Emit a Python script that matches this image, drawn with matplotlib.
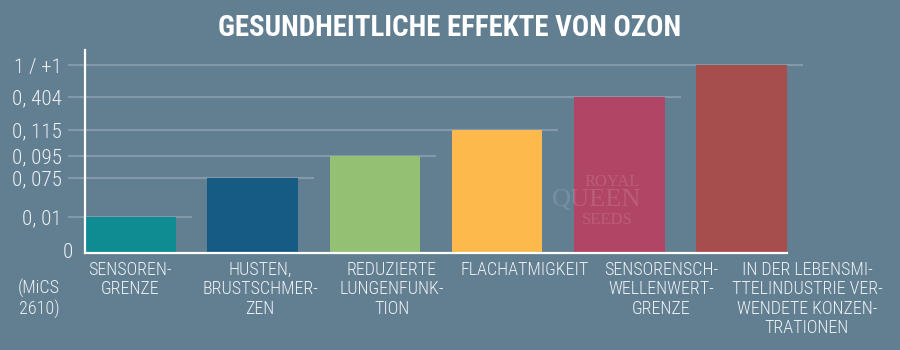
import numpy as np
import matplotlib
matplotlib.use("Agg")
import matplotlib.pyplot as plt
from matplotlib import font_manager
from matplotlib.scale import FuncScale
from matplotlib.transforms import blended_transform_factory

# ---------------- data ----------------
categories = [
    "SENSOREN-\nGRENZE",
    "HUSTEN,\nBRUSTSCHMER-\nZEN",
    "REDUZIERTE\nLUNGENFUNK-\nTION",
    "FLACHATMIGKEIT",
    "SENSORENSCH-\nWELLENWERT-\nGRENZE",
    "IN DER LEBENSMI-\nTTELINDUSTRIE VER-\nWENDETE KONZEN-\nTRATIONEN",
]
values = [0.01, 0.075, 0.095, 0.115, 0.404, 1.0]
tick_values = [0, 0.01, 0.075, 0.095, 0.115, 0.404, 1.0]
tick_labels = ["0", "0, 01", "0, 075", "0, 095", "0, 115", "0, 404", "1 / +1"]
unit_label = "(MiCS\n2610)"
title = "GESUNDHEITLICHE EFFEKTE VON OZON"

# ---------------- layout / style ----------------
# the reference axis is not linear: each tick sits at its own height (px above zero)
tick_heights_px = [0, 36, 75, 97, 123, 156, 188]
axes_height_px = 203
# category label centres in the reference (px), they drift right of the bars
label_centers_px = [130, 260, 392, 525, 661, 807]

bg = "#627e91"
grid_c = "#8199a9"
text_c = "#eef2f5"
bar_colors = ["#0f8c91", "#165b83", "#94c073", "#fdb94b", "#b14566", "#a54e4d"]

names = {f.name for f in font_manager.fontManager.ttflist}


def pick(cands):
    for c in cands:
        if c in names:
            return c
    return "DejaVu Sans"


label_font = pick(["Roboto Condensed", "Liberation Sans Narrow", "Roboto"])
title_font = pick(["Roboto Condensed", "Roboto", "Liberation Sans Narrow"])


def fwd(v):
    v = np.asarray(v, dtype=float)
    out = np.interp(v, tick_values, tick_heights_px)
    slope = (tick_heights_px[-1] - tick_heights_px[-2]) / (tick_values[-1] - tick_values[-2])
    return np.where(v > tick_values[-1], tick_heights_px[-1] + (v - tick_values[-1]) * slope, out)


def inv(p):
    p = np.asarray(p, dtype=float)
    out = np.interp(p, tick_heights_px, tick_values)
    slope = (tick_values[-1] - tick_values[-2]) / (tick_heights_px[-1] - tick_heights_px[-2])
    return np.where(p > tick_heights_px[-1], tick_values[-1] + (p - tick_heights_px[-1]) * slope, out)


W, H = 900, 350
fig = plt.figure(figsize=(9, 3.5), dpi=100, facecolor=bg)
ax_left, ax_right, ax_bottom, ax_top = 85, 787, 253, 50
ax = fig.add_axes([ax_left / W, (H - ax_bottom) / H, (ax_right - ax_left) / W,
                   (ax_bottom - ax_top) / H])
ax.set_facecolor(bg)
ax.set_yscale(FuncScale(ax, (fwd, inv)))
ax.set_ylim(0, float(inv(axes_height_px)))

n = len(values)
x = np.arange(n)
bw = 0.74
ax.set_xlim(-bw / 2, n - 1 + bw / 2)

ax.bar(x, values, width=bw, color=bar_colors, zorder=3)

# partial gridlines: from left of axis to just past each bar
px_per_unit = (ax_right - ax_left) / (n - 1 + bw)
left_ext = -bw / 2 - 17 / px_per_unit
for i, v in enumerate(values):
    ax.plot([left_ext, i + bw / 2 + 16 / px_per_unit], [v, v], color=grid_c, lw=1.6,
            clip_on=False, zorder=1, solid_capstyle="butt")

for s in ["top", "right"]:
    ax.spines[s].set_visible(False)
for s in ["left", "bottom"]:
    ax.spines[s].set_color("white")
    ax.spines[s].set_linewidth(1.6)
    ax.spines[s].set_zorder(4)

ax.set_xticks([])
ax.set_yticks(tick_values[1:])
ax.set_yticklabels(tick_labels[1:])
ax.tick_params(axis="y", length=0, pad=16.5, labelcolor=text_c, labelsize=13.5)
for lab in ax.get_yticklabels():
    lab.set_fontfamily(label_font)
    lab.set_fontweight("light")

trans_y = blended_transform_factory(fig.transFigure, ax.transData)
zero_t = ax.text(73 / W, float(inv(-3)), tick_labels[0], transform=trans_y, ha="right",
                 va="center", color=text_c, fontsize=13.5, fontfamily=label_font,
                 fontweight="light")

# category labels
cat_texts = []
for i, c in enumerate(categories):
    t = fig.text(label_centers_px[i] / W, 1 - 261 / H, c, ha="center", va="top",
                 color=text_c, fontsize=13, fontfamily=label_font, fontweight="light",
                 linespacing=1.1)
    cat_texts.append(t)

ut = fig.text(39 / W, 1 - 279 / H, unit_label, ha="center", va="top", color=text_c,
              fontsize=13, fontfamily=label_font, fontweight="light", linespacing=1.1)

tt = fig.text(0.5, 1 - 28 / H, title, ha="center", va="center", color="white",
              fontsize=20, fontweight="bold", fontfamily=title_font)

# watermark
wm_kw = dict(ha="center", va="center", color="white", alpha=0.13,
             fontfamily="Liberation Serif", zorder=5)
fig.text(612 / W, 1 - 182 / H, "ROYAL", fontsize=12, **wm_kw)
fig.text(597 / W, 1 - 200 / H, "QUEEN", fontsize=19, **wm_kw)
fig.text(607 / W, 1 - 220 / H, "SEEDS", fontsize=12, **wm_kw)

# fit font sizes to reference widths
fig.canvas.draw()
r = fig.canvas.get_renderer()


def fit(t, target_px):
    w = t.get_window_extent(r).width
    t.set_fontsize(t.get_fontsize() * target_px / w)


fit(tt, 465)
probe = fig.text(0, 0, "BRUSTSCHMER-", fontsize=13, fontfamily=label_font, fontweight="light")
w = probe.get_window_extent(r).width
probe.remove()
cat_size = 13 * 116 / w
for t in cat_texts + [ut]:
    t.set_fontsize(cat_size)
probe = fig.text(0, 0, "0, 404", fontsize=13.5, fontfamily=label_font, fontweight="light")
w = probe.get_window_extent(r).width
probe.remove()
tick_size = 13.5 * 50 / w
ax.tick_params(axis="y", labelsize=tick_size)
zero_t.set_fontsize(tick_size)

fig.savefig("out.png", dpi=100, facecolor=bg)
